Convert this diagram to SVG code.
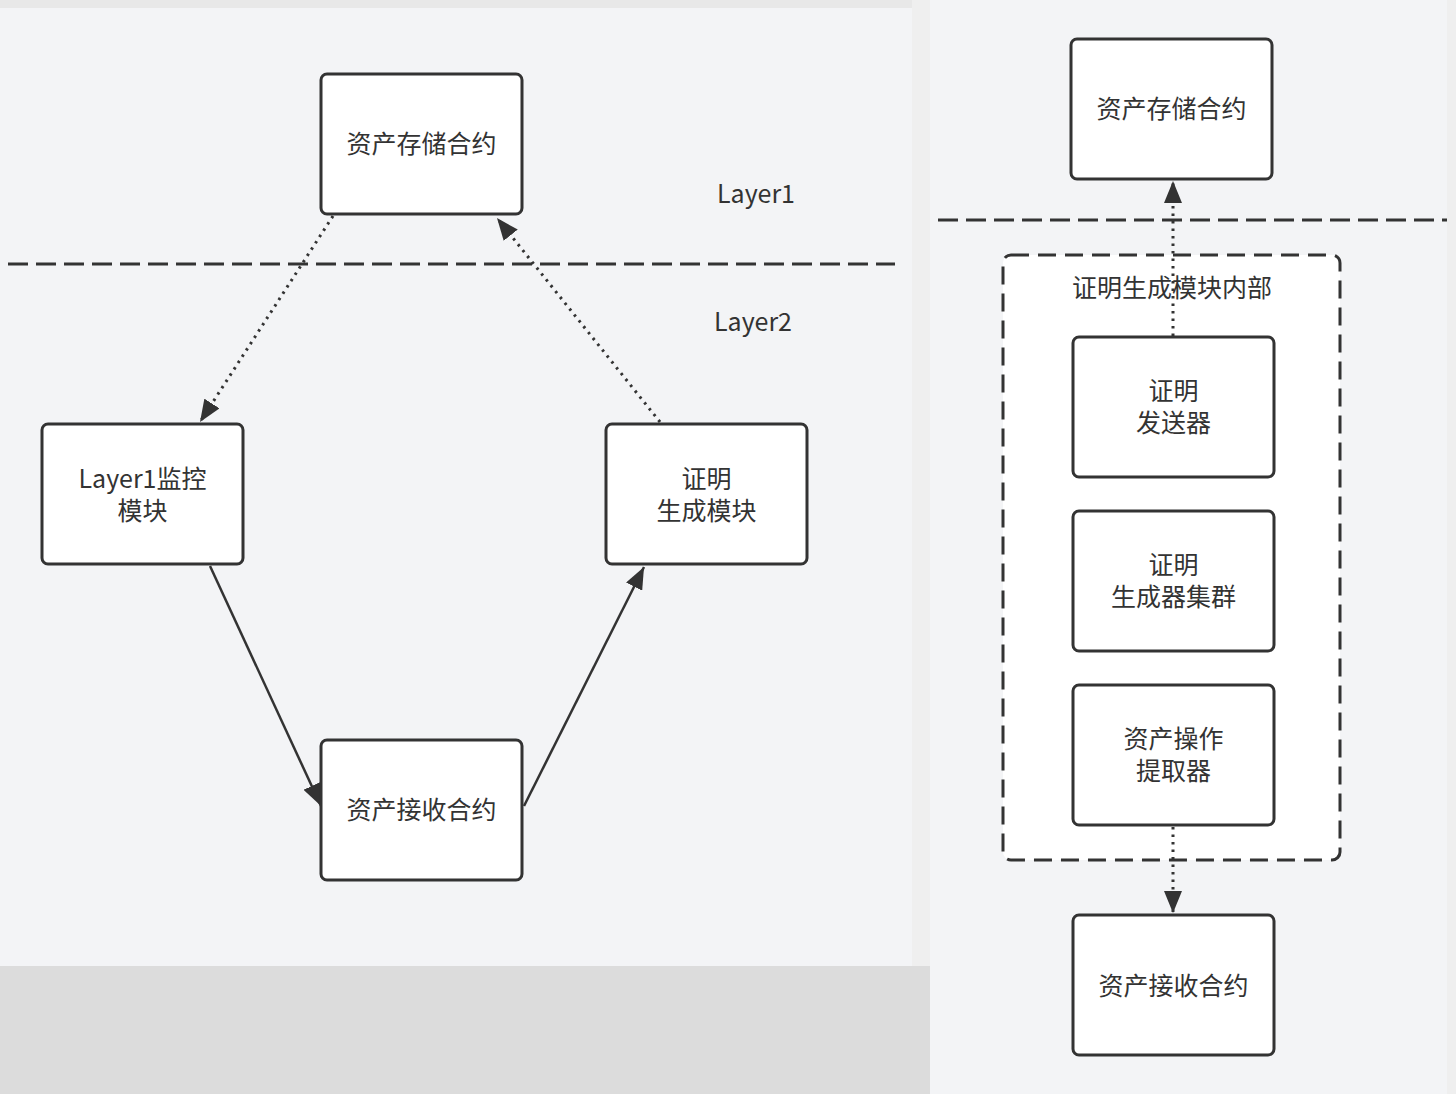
<svg xmlns="http://www.w3.org/2000/svg" width="1456" height="1094" viewBox="0 0 1456 1094">
<defs>
<style>
.box{fill:#ffffff;stroke:#333333;stroke-width:3}
.lbl{font-family:"Noto Sans CJK SC","Noto Sans",sans-serif;font-size:25px;fill:#333333;text-anchor:middle}
.sep{stroke:#333333;stroke-width:3;stroke-dasharray:20 8;fill:none}
.dot{stroke:#333333;stroke-width:3;stroke-dasharray:2.5 5;fill:none}
.solid{stroke:#333333;stroke-width:2.5;fill:none}
</style>
<marker id="arr" markerUnits="userSpaceOnUse" markerWidth="24" markerHeight="18" refX="22" refY="9" orient="auto">
<path d="M0,0 L22,9 L0,18 Z" fill="#333333"/>
</marker>
</defs>
<g id="background">
<rect x="0" y="0" width="1456" height="1094" fill="#efefef"/>
<rect x="0" y="0" width="912" height="8" fill="#e8e8e8"/>
<rect x="0" y="8" width="912" height="958" fill="#f3f4f6"/>
<rect x="0" y="966" width="930" height="128" fill="#dcdcdc"/>
<rect x="930" y="0" width="517" height="1094" fill="#f3f4f6"/>
</g>
<g id="separators">
<line class="sep" x1="8" y1="264" x2="895" y2="264"/>
<line class="sep" x1="938" y1="220" x2="1447" y2="220"/>
<text class="lbl" x="756" y="203">Layer1</text>
<text class="lbl" x="753" y="331">Layer2</text>
</g>
<g id="container">
<rect x="1003" y="255" width="337" height="605" rx="8" fill="#ffffff" stroke="#333333" stroke-width="3" stroke-dasharray="18 9"/>
<text class="lbl" x="1172" y="297">证明生成模块内部</text>
</g>
<g id="connectors">
<line class="dot" x1="333" y1="216" x2="200" y2="422" marker-end="url(#arr)"/>
<line class="dot" x1="660" y1="422" x2="497" y2="218" marker-end="url(#arr)"/>
<line class="solid" x1="210" y1="566" x2="321" y2="806" marker-end="url(#arr)"/>
<line class="solid" x1="524" y1="806" x2="644" y2="567" marker-end="url(#arr)"/>
<line class="dot" x1="1173" y1="336" x2="1173" y2="181" marker-end="url(#arr)"/>
<line class="dot" x1="1173" y1="827" x2="1173" y2="913" marker-end="url(#arr)"/>
</g>
<g id="node-store-left">
<rect class="box" x="321" y="74" width="201" height="140" rx="6"/>
<text class="lbl" x="421.5" y="153">资产存储合约</text>
</g>
<g id="node-monitor">
<rect class="box" x="42" y="424" width="201" height="140" rx="6"/>
<text class="lbl" x="142.5" y="488">Layer1监控</text>
<text class="lbl" x="142.5" y="520">模块</text>
</g>
<g id="node-proofgen">
<rect class="box" x="606" y="424" width="201" height="140" rx="6"/>
<text class="lbl" x="706.5" y="488">证明</text>
<text class="lbl" x="706.5" y="520">生成模块</text>
</g>
<g id="node-receive-left">
<rect class="box" x="321" y="740" width="201" height="140" rx="6"/>
<text class="lbl" x="421.5" y="819">资产接收合约</text>
</g>
<g id="node-store-right">
<rect class="box" x="1071" y="39" width="201" height="140" rx="6"/>
<text class="lbl" x="1171.5" y="118">资产存储合约</text>
</g>
<g id="node-sender">
<rect class="box" x="1073" y="337" width="201" height="140" rx="6"/>
<text class="lbl" x="1173.5" y="400">证明</text>
<text class="lbl" x="1173.5" y="432">发送器</text>
</g>
<g id="node-cluster">
<rect class="box" x="1073" y="511" width="201" height="140" rx="6"/>
<text class="lbl" x="1173.5" y="574">证明</text>
<text class="lbl" x="1173.5" y="606">生成器集群</text>
</g>
<g id="node-extractor">
<rect class="box" x="1073" y="685" width="201" height="140" rx="6"/>
<text class="lbl" x="1173.5" y="748">资产操作</text>
<text class="lbl" x="1173.5" y="780">提取器</text>
</g>
<g id="node-receive-right">
<rect class="box" x="1073" y="915" width="201" height="140" rx="6"/>
<text class="lbl" x="1173.5" y="995">资产接收合约</text>
</g>
</svg>
